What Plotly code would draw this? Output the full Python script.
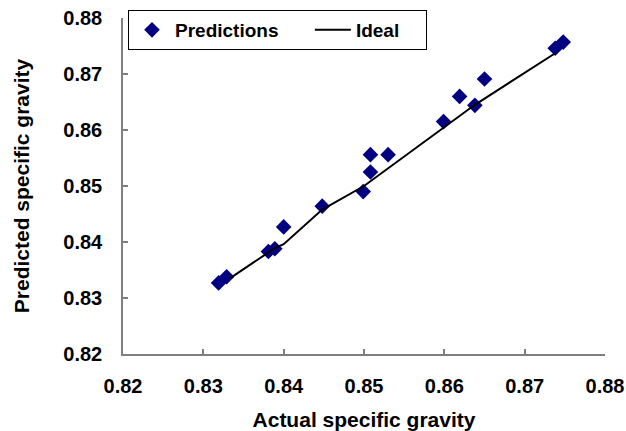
import plotly.graph_objects as go

# Predictions (actual, predicted)
actual = [0.8319, 0.8329, 0.8381, 0.8389, 0.8400, 0.8448, 0.8499, 0.8508,
          0.8508, 0.8530, 0.8599, 0.8619, 0.8638, 0.8650, 0.8738, 0.8748]
predicted = [0.8327, 0.8338, 0.8383, 0.8388, 0.8427, 0.8464, 0.8490, 0.8525,
             0.8556, 0.8556, 0.8615, 0.8660, 0.8644, 0.8691, 0.8746, 0.8757]

# Ideal line vertices
ideal_x = [0.8333, 0.8389, 0.8400, 0.8448, 0.8500, 0.8638, 0.8738]
ideal_y = [0.8335, 0.8389, 0.8396, 0.8458, 0.8500, 0.8645, 0.8737]

tick_vals = [0.82, 0.83, 0.84, 0.85, 0.86, 0.87, 0.88]
tick_text = ["0.82", "0.83", "0.84", "0.85", "0.86", "0.87", "0.88"]

font_family = "Liberation Sans, Arial, sans-serif"

W, H = 626, 431

fig = go.Figure()
fig.add_trace(go.Scatter(
    x=actual, y=predicted, mode="markers",
    name="Predictions" + "\u00a0" * 5,
    marker=dict(symbol="diamond", size=12, color="#000080",
                line=dict(width=0)),
))
fig.add_trace(go.Scatter(
    x=ideal_x, y=ideal_y, mode="lines", name="Ideal" + "\u00a0" * 4,
    line=dict(color="black", width=2),
))

axis_common = dict(
    range=[0.82, 0.88], tickvals=tick_vals, ticktext=tick_text,
    showgrid=False, zeroline=False, showline=True, automargin=False,
    ticklabeloverflow="allow",
    linecolor="#7f7f7f", linewidth=1.5,
    ticks="inside", ticklen=5, tickcolor="#7f7f7f", tickwidth=1.5,
    tickfont=dict(family=font_family, size=20, color="black", weight="bold"),
)

fig.update_layout(
    width=W, height=H,
    margin=dict(l=123, r=21, t=18, b=77, autoexpand=False),
    paper_bgcolor="white", plot_bgcolor="white",
    font=dict(family=font_family, color="black"),
    xaxis=dict(**axis_common, ticklabelstandoff=13,
               title=dict(text="<b>Actual specific gravity</b>",
                          font=dict(family=font_family, size=21), standoff=19)),
    yaxis=dict(**axis_common, ticklabelstandoff=15,
               title=dict(text="<b>Predicted specific gravity</b>",
                          font=dict(family=font_family, size=21), standoff=28)),
    legend=dict(
        orientation="h", xref="container", yref="container",
        x=128 / W, xanchor="left", y=1 - 10 / H, yanchor="top",
        itemwidth=36,
        bordercolor="black", borderwidth=1, bgcolor="white",
        font=dict(family=font_family, size=19, color="black", weight="bold"),
    ),
    showlegend=True,
)

fig.write_html(
    "out.html",
    config={"displayModeBar": False},
    post_script="document.body.style.margin='0';document.body.style.overflow='hidden';",
)
